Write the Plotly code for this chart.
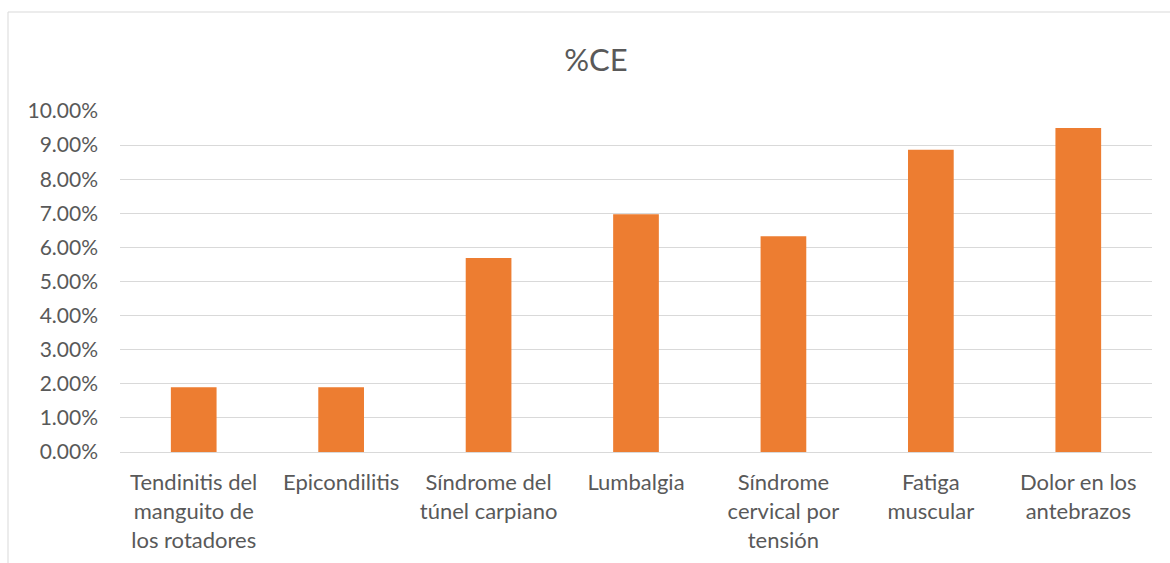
import plotly.graph_objects as go

categories = [
    "Tendinitis del<br>manguito de<br>los rotadores",
    "Epicondilitis",
    "Síndrome del<br>túnel carpiano",
    "Lumbalgia",
    "Síndrome<br>cervical por<br>tensión",
    "Fatiga<br>muscular",
    "Dolor en los<br>antebrazos",
]
values = [0.0190, 0.0190, 0.0569, 0.0697, 0.0633, 0.0886, 0.0950]
y_ticks = [0, 0.01, 0.02, 0.03, 0.04, 0.05, 0.06, 0.07, 0.08, 0.09, 0.10]

FONT = "Lato"
GRAY = "#595959"

fig = go.Figure(go.Bar(x=categories, y=values, marker=dict(color="#ED7D31", line=dict(width=0)),
                       width=0.31))

fig.update_layout(
    width=1170, height=563,
    margin=dict(l=120, r=18, t=111, b=111),
    paper_bgcolor="white", plot_bgcolor="white",
    showlegend=False,
    title=dict(text="%CE", x=596 / 1170, xref="container", xanchor="center", y=1 - 60 / 563,
               yref="container", yanchor="middle", font=dict(family=FONT, size=31, color=GRAY)),
    font=dict(family=FONT, color=GRAY),
    bargap=0.69,
)
fig.update_xaxes(
    tickfont=dict(family=FONT, size=22, color=GRAY),
    showline=True, linecolor="#d9d9d9", linewidth=1,
    ticks="outside", ticklen=11, tickcolor="rgba(0,0,0,0)",
    showgrid=False, automargin=False,
)
fig.update_yaxes(
    range=[0, 0.10], tickvals=y_ticks, tickformat=".2%",
    tickfont=dict(family=FONT, size=21, color=GRAY),
    showgrid=True, gridcolor="#d9d9d9", gridwidth=1,
    zeroline=False, showline=False, ticklabelstandoff=21, automargin=False,
)
# chart area border (left and top visible)
fig.add_shape(type="rect", xref="paper", yref="paper",
              x0=(8 - 120) / 1032, x1=1.1, y0=-0.5, y1=1 + (111 - 12) / 341,
              line=dict(color="#d9d9d9", width=1), fillcolor="rgba(0,0,0,0)", layer="below")
fig.write_html("out.html")
